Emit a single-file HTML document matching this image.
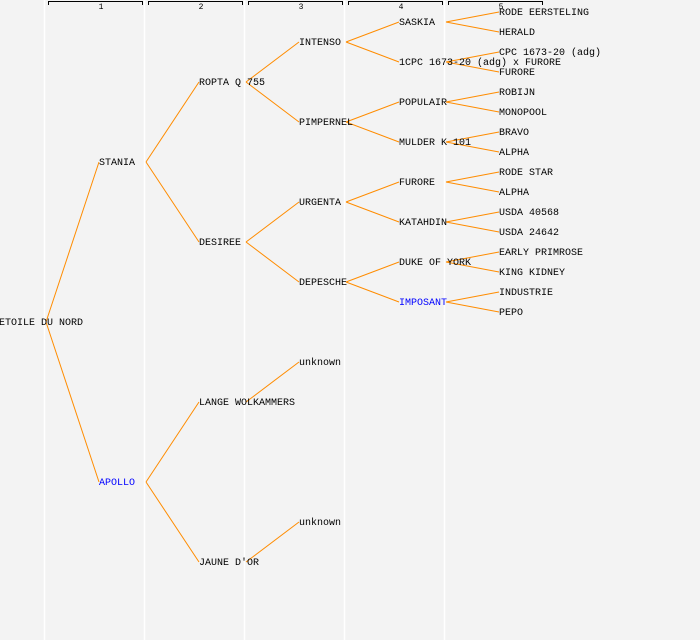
<!DOCTYPE html>
<html><head><style>
html,body{margin:0;padding:0;background:#f3f3f3;}
svg{display:block}
text{font-family:"Liberation Mono","DejaVu Sans Mono",monospace;font-size:10px;fill:#000}
.b{fill:#0000ff}
.h{font-size:8px;text-anchor:middle}
</style></head><body>
<svg width="700" height="640" xmlns="http://www.w3.org/2000/svg">
<rect width="700" height="640" fill="#f3f3f3"/>
<g stroke="#fff" stroke-width="1.5">
<line x1="44.5" y1="0" x2="44.5" y2="640"/><line x1="144.5" y1="0" x2="144.5" y2="640"/>
<line x1="244.5" y1="0" x2="244.5" y2="640"/><line x1="344.5" y1="0" x2="344.5" y2="640"/>
<line x1="444.5" y1="0" x2="444.5" y2="640"/>
</g>
<g stroke="#000" fill="none" stroke-width="1">
<path d="M48.5 5V1.5H142.5V5"/><path d="M148.5 5V1.5H242.5V5"/><path d="M248.5 5V1.5H342.5V5"/>
<path d="M348.5 5V1.5H442.5V5"/><path d="M448.5 5V1.5H542.5V5"/>
</g>
<text class="h" x="101" y="9">1</text><text class="h" x="201" y="9">2</text><text class="h" x="301" y="9">3</text><text class="h" x="401" y="9">4</text><text class="h" x="501" y="9">5</text>
<g stroke="#ff8c00" stroke-width="1" fill="none">
<path d="M46 322L99 162M46 322L99 482"/>
<path d="M146 162L199 82M146 162L199 242M146 482L199 402M146 482L199 562"/>
<path d="M246 82L299 42M246 82L299 122M246 242L299 202M246 242L299 282M246 402L299 362M246 562L299 522"/>
<path d="M346 42L399 22M346 42L399 62M346 122L399 102M346 122L399 142M346 202L399 182M346 202L399 222M346 282L399 262M346 282L399 302"/>
<path d="M446 22L499 12M446 22L499 32M446 62L499 52M446 62L499 72M446 102L499 92M446 102L499 112M446 142L499 132M446 142L499 152M446 182L499 172M446 182L499 192M446 222L499 212M446 222L499 232M446 262L499 252M446 262L499 272M446 302L499 292M446 302L499 312"/>
</g>
<g>
<text x="-1" y="325">ETOILE DU NORD</text>
<text x="99" y="165">STANIA</text><text class="b" x="99" y="485">APOLLO</text>
<text x="199" y="85">ROPTA Q 755</text><text x="199" y="245">DESIREE</text><text x="199" y="405">LANGE WOLKAMMERS</text><text x="199" y="565">JAUNE D'OR</text>
<text x="299" y="45">INTENSO</text><text x="299" y="125">PIMPERNEL</text><text x="299" y="205">URGENTA</text><text x="299" y="285">DEPESCHE</text><text x="299" y="365">unknown</text><text x="299" y="525">unknown</text>
<text x="399" y="25">SASKIA</text><text x="399" y="65">1CPC 1673-20 (adg) x FURORE</text><text x="399" y="105">POPULAIR</text><text x="399" y="145">MULDER K 101</text><text x="399" y="185">FURORE</text><text x="399" y="225">KATAHDIN</text><text x="399" y="265">DUKE OF YORK</text><text class="b" x="399" y="305">IMPOSANT</text>
<text x="499" y="15">RODE EERSTELING</text><text x="499" y="35">HERALD</text><text x="499" y="55">CPC 1673-20 (adg)</text><text x="499" y="75">FURORE</text>
<text x="499" y="95">ROBIJN</text><text x="499" y="115">MONOPOOL</text><text x="499" y="135">BRAVO</text><text x="499" y="155">ALPHA</text>
<text x="499" y="175">RODE STAR</text><text x="499" y="195">ALPHA</text><text x="499" y="215">USDA 40568</text><text x="499" y="235">USDA 24642</text>
<text x="499" y="255">EARLY PRIMROSE</text><text x="499" y="275">KING KIDNEY</text><text x="499" y="295">INDUSTRIE</text><text x="499" y="315">PEPO</text>
</g>
</svg>
</body></html>
